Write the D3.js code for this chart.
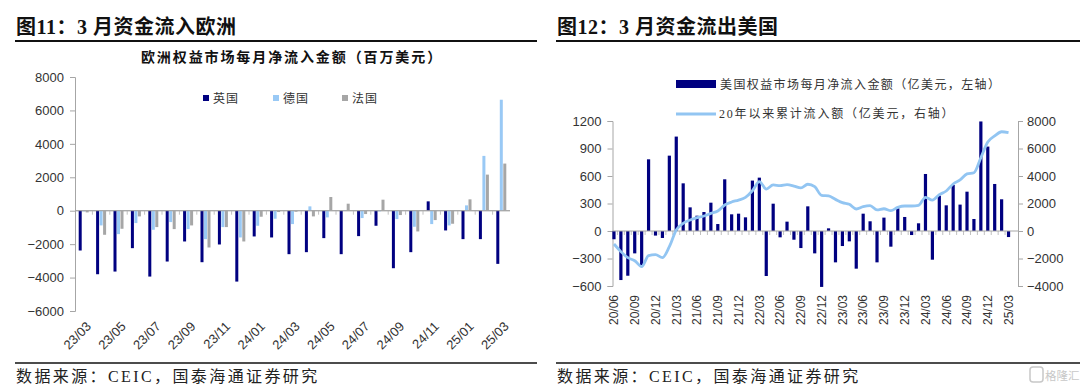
<!DOCTYPE html>
<html><head><meta charset="utf-8">
<script src="https://cdn.jsdelivr.net/npm/d3@7"></script>
<style>
body{margin:0;background:#fff;}
svg{display:block;}
.cjk{font-family:'Liberation Serif','Noto Sans CJK SC',serif;}
.ax text{font-family:'Liberation Sans',Arial,sans-serif;font-size:13px;fill:#333;}
.ax path,.ax line{stroke:#a6a6a6;}
</style></head>
<body><svg id="c" width="1080" height="391"></svg>
<script>
// ---------- Left chart data (百万美元) ----------
const euMonths = ["23/03","23/04","23/05","23/06","23/07","23/08","23/09","23/10","23/11","23/12","24/01","24/02","24/03","24/04","24/05","24/06","24/07","24/08","24/09","24/10","24/11","24/12","25/01","25/02","25/03"];
const ukValues = [-2380,-3800,-3640,-2240,-3940,-3040,-1840,-3080,-2020,-4240,-1540,-1600,-2600,-2480,-1640,-2600,-1520,-900,-3440,-2480,560,-1180,-1700,-1700,-3180];
const deValues = [-40,-880,-1400,-740,-1140,-680,-1100,-1700,-980,-1600,-900,-480,-800,260,-400,40,-440,-40,-500,-960,-800,-880,320,3280,6640];
const frValues = [-100,-1440,-1080,-340,-980,-1100,-880,-2200,-980,-1840,-360,-80,-60,-340,820,420,-200,660,-260,-1240,-560,-780,680,2160,2820];
const euYTicks = [-6000,-4000,-2000,0,2000,4000,6000,8000];
const euSeriesNames = ["英国","德国","法国"];

// ---------- Right chart data (亿美元) ----------
const usMonths = ["20/06","20/07","20/08","20/09","20/10","20/11","20/12","21/01","21/02","21/03","21/04","21/05","21/06","21/07","21/08","21/09","21/10","21/11","21/12","22/01","22/02","22/03","22/04","22/05","22/06","22/07","22/08","22/09","22/10","22/11","22/12","23/01","23/02","23/03","23/04","23/05","23/06","23/07","23/08","23/09","23/10","23/11","23/12","24/01","24/02","24/03","24/04","24/05","24/06","24/07","24/08","24/09","24/10","24/11","24/12","25/01","25/02","25/03"];
const usMonthly = [-90,-535,-488,-244,-371,782,-50,-76,822,1030,520,258,167,207,309,76,564,182,189,149,550,582,-491,298,-69,102,-95,-186,269,-244,-610,29,-342,-164,-113,-411,189,106,-342,146,-171,248,153,-44,84,622,-313,386,280,502,288,429,131,1195,921,513,346,-66];
const usCumulative = [-945,-1500,-1940,-2160,-2590,-1790,-1720,-1940,-1140,70,560,800,970,1090,1280,1450,1890,2110,2250,2450,2930,3590,3050,3350,3300,3370,3270,3130,3400,3220,2590,2550,2300,2060,1940,1600,1770,1840,1530,1620,1480,1720,1820,1820,1870,2450,2250,2640,2910,3420,3710,4150,4240,5330,6470,6910,7220,7150];
const usLeftTicks = [-600,-300,0,300,600,900,1200];
const usRightTicks = [-4000,-2000,0,2000,4000,6000,8000];
const usLegend = ["美国权益市场每月净流入金额（亿美元，左轴）","20年以来累计流入额（亿美元，右轴）"];

const C_UK="#000080", C_DE="#99c9f5", C_FR="#a6a6a6", C_LINE="#92c5f2";
const svg = d3.select("#c");

// ---------- Frame texts ----------
function frame(x0,x1,title,src){
  svg.append("text").attr("class","cjk").attr("x",x0+1).attr("y",34)
    .attr("font-size",20).attr("font-weight","bold").attr("letter-spacing","0.5px").attr("fill","#111").text(title);
  svg.append("line").attr("x1",x0).attr("x2",x1).attr("y1",41).attr("y2",41).attr("stroke","#111").attr("stroke-width",2);
  svg.append("line").attr("x1",x0).attr("x2",x1).attr("y1",363).attr("y2",363).attr("stroke","#111").attr("stroke-width",1.5);
  svg.append("text").attr("class","cjk").attr("x",x0+1).attr("y",382)
    .attr("font-size",16).attr("letter-spacing","2.4px").attr("fill","#222").text(src);
}
frame(15,537,"图11：3 月资金流入欧洲","数据来源：CEIC，国泰海通证券研究");
frame(556,1080,"图12：3 月资金流出美国","数据来源：CEIC，国泰海通证券研究");

// ---------- Left chart ----------
{
  const x = d3.scaleBand().domain(euMonths).range([75,510]).paddingInner(0);
  const y = d3.scaleLinear().domain([-6000,8000]).range([311,77]);
  const inner = d3.scaleBand().domain(euSeriesNames).range([0,10.5]);
  const off = (x.bandwidth()-10.5)/2;

  svg.append("text").attr("class","cjk").attr("x",292).attr("y",62).attr("text-anchor","middle")
    .attr("font-size",14).attr("font-weight","bold").attr("letter-spacing","1.9px").attr("fill","#111")
    .text("欧洲权益市场每月净流入金额（百万美元）");

  svg.append("g").attr("class","ax").attr("transform","translate(75,0)")
    .call(d3.axisLeft(y).tickValues(euYTicks).tickSize(5).tickPadding(6).tickFormat(d3.format("d")));

  const xAx = svg.append("g").attr("class","ax").attr("transform",`translate(0,${y(0)})`)
    .call(d3.axisBottom(x).tickSize(0).tickFormat(""));
  xAx.select(".domain").attr("d",`M75,0H510`);
  svg.append("g").selectAll("line").data(euMonths.slice(1)).join("line")
    .attr("x1",d=>x(d)).attr("x2",d=>x(d)).attr("y1",y(0)).attr("y2",y(0)+4).attr("stroke","#c0c0c0");

  const series = [[ukValues,C_UK],[deValues,C_DE],[frValues,C_FR]];
  series.forEach(([vals,col],si)=>{
    svg.append("g").selectAll("rect").data(vals).join("rect")
      .attr("x",(d,i)=>x(euMonths[i])+off+inner(euSeriesNames[si])+0.25)
      .attr("width",inner.bandwidth()-0.5)
      .attr("y",d=>y(Math.max(0,d))).attr("height",d=>Math.abs(y(d)-y(0)))
      .attr("fill",col);
  });
  svg.append("line").attr("x1",75).attr("x2",510).attr("y1",y(0)).attr("y2",y(0)).attr("stroke","#a6a6a6");

  svg.append("g").selectAll("text").data(euMonths.filter((d,i)=>i%2===0)).join("text")
    .attr("transform",d=>`translate(${x(d)+x.bandwidth()/2+5},${324}) rotate(-45)`)
    .attr("text-anchor","end").attr("dy","0.35em")
    .attr("font-family","'Liberation Sans',Arial,sans-serif").attr("font-size",13).attr("fill","#333").text(d=>d);

  const lg = [[203,C_UK],[273,C_DE],[342,C_FR]];
  lg.forEach(([lx,col],i)=>{
    svg.append("rect").attr("x",lx).attr("y",95).attr("width",6).attr("height",6).attr("fill",col);
    svg.append("text").attr("class","cjk").attr("x",lx+10).attr("y",102.5).attr("font-size",12)
      .attr("letter-spacing","1px").attr("fill","#333").text(euSeriesNames[i]);
  });
}

// ---------- Right chart ----------
{
  const x = d3.scaleBand().domain(usMonths).range([610.5,1012]).paddingInner(0);
  const yL = d3.scaleLinear().domain([-600,1200]).range([286,121]);
  const yR = d3.scaleLinear().domain([-4000,8000]).range([286,121]);
  const cx = d=>x(d)+x.bandwidth()/2;

  svg.append("g").attr("class","ax").attr("transform","translate(612.5,0)")
    .call(d3.axisLeft(yL).tickValues(usLeftTicks).tickSize(5).tickPadding(6).tickFormat(d3.format("d")));
  svg.append("g").attr("class","ax").attr("transform","translate(1018,0)")
    .call(d3.axisRight(yR).tickValues(usRightTicks).tickSize(5).tickPadding(4).tickFormat(d3.format("d")));

  svg.append("g").selectAll("line").data(usMonths.slice(1)).join("line")
    .attr("x1",d=>x(d)).attr("x2",d=>x(d)).attr("y1",yL(0)).attr("y2",yL(0)+4).attr("stroke","#c0c0c0");

  svg.append("g").selectAll("rect").data(usMonthly).join("rect")
    .attr("x",(d,i)=>cx(usMonths[i])-1.6).attr("width",3.2)
    .attr("y",d=>yL(Math.max(0,d))).attr("height",d=>Math.abs(yL(d)-yL(0)))
    .attr("fill",C_UK);
  svg.append("line").attr("x1",612.5).attr("x2",1018).attr("y1",yL(0)).attr("y2",yL(0)).attr("stroke","#a6a6a6");

  const line = d3.line().x((d,i)=>cx(usMonths[i])).y(d=>yR(d)).curve(d3.curveMonotoneX);
  svg.append("path").datum(usCumulative).attr("d",line).attr("fill","none")
    .attr("stroke",C_LINE).attr("stroke-width",2.8);

  svg.append("g").selectAll("text").data(usMonths.filter((d,i)=>i%3===0)).join("text")
    .attr("transform",d=>`translate(${cx(d)},295) rotate(-90)`)
    .attr("text-anchor","end").attr("dy","0.36em")
    .attr("font-family","'Liberation Sans',Arial,sans-serif").attr("font-size",12).attr("fill","#333").text(d=>d);

  svg.append("rect").attr("x",676).attr("y",80).attr("width",40).attr("height",8).attr("fill",C_UK);
  svg.append("text").attr("class","cjk").attr("x",720).attr("y",89).attr("font-size",12)
    .attr("letter-spacing","1.4px").attr("fill","#333").text(usLegend[0]);
  svg.append("line").attr("x1",676).attr("x2",716).attr("y1",114).attr("y2",114).attr("stroke",C_LINE).attr("stroke-width",2.8);
  svg.append("text").attr("class","cjk").attr("x",719).attr("y",118).attr("font-size",12)
    .attr("letter-spacing","1.8px").attr("fill","#333").text(usLegend[1]);

  // watermark
  svg.append("rect").attr("x",1030).attr("y",367).attr("width",13).attr("height",15).attr("rx",3)
    .attr("fill","none").attr("stroke","#c8c8c8").attr("stroke-width",1.5);
  svg.append("text").attr("class","cjk").attr("x",1045).attr("y",380).attr("font-size",11.5)
    .attr("fill","#c8c8c8").text("格隆汇");
}
</script></body></html>
